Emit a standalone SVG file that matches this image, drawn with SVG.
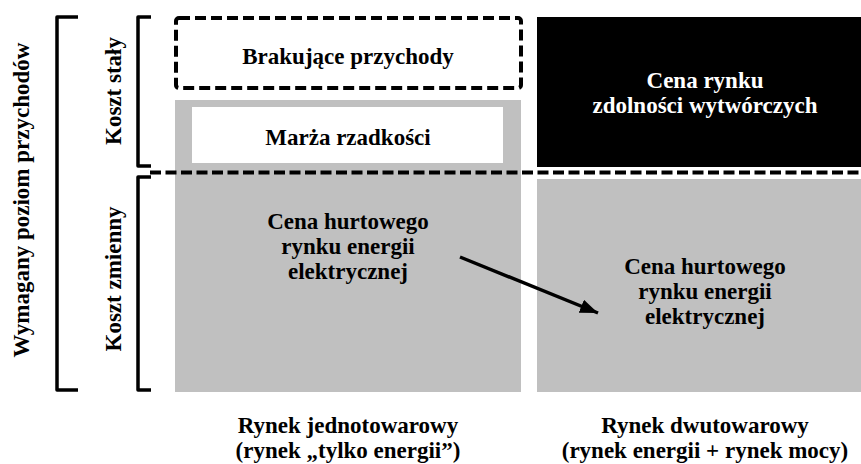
<svg xmlns="http://www.w3.org/2000/svg" width="861" height="464" viewBox="0 0 861 464">
<defs>
<style>
.t{font-family:"Liberation Serif","Times New Roman",serif;font-weight:bold;font-size:23px;fill:#000;text-anchor:middle}
.w{fill:#fff}
.br{fill:none;stroke:#000;stroke-width:3.5;stroke-linejoin:round}
.gray{fill:#c0c0c0}
</style>
<marker id="ah" markerWidth="18" markerHeight="14" refX="18" refY="7" orient="auto" markerUnits="userSpaceOnUse">
<path d="M0,0 L18,7 L0,14 Z" fill="#000"/>
</marker>
</defs>
<rect width="861" height="464" fill="#fff"/>
<g id="bracket-total">
<path class="br" d="M78,17 H57 V390 H78"/>
<text class="t" transform="translate(29,200) rotate(-90)">Wymagany poziom przychodów</text>
</g>
<g id="bracket-fixed">
<path class="br" d="M151,17 H138 V166 H151"/>
<text class="t" transform="translate(121,91) rotate(-90)">Koszt stały</text>
</g>
<g id="bracket-variable">
<path class="br" d="M151,177 H138 V390 H151"/>
<text class="t" transform="translate(121,279) rotate(-90)">Koszt zmienny</text>
</g>
<g id="left-gray">
<rect class="gray" x="175" y="100" width="346" height="292"/>
<text class="t" x="348" y="229">Cena hurtowego</text>
<text class="t" x="348" y="254">rynku energii</text>
<text class="t" x="348" y="279">elektrycznej</text>
</g>
<g id="scarcity">
<rect x="192" y="107" width="311" height="56" fill="#fff"/>
<text class="t" x="348" y="145">Marża rzadkości</text>
</g>
<g id="missing">
<rect x="176" y="18" width="345" height="70" rx="3" fill="none" stroke="#000" stroke-width="4" stroke-dasharray="11,5"/>
<text class="t" x="348" y="64">Brakujące przychody</text>
</g>
<g id="capacity">
<rect x="537" y="17" width="324" height="150" fill="#000"/>
<text class="t w" x="705" y="88">Cena rynku</text>
<text class="t w" x="705" y="113">zdolności wytwórczych</text>
</g>
<g id="right-gray">
<rect class="gray" x="537" y="179" width="324" height="213"/>
<text class="t" x="705" y="274">Cena hurtowego</text>
<text class="t" x="705" y="299">rynku energii</text>
<text class="t" x="705" y="324">elektrycznej</text>
</g>
<g id="connectors">
<line x1="150" y1="172.5" x2="861" y2="172.5" stroke="#000" stroke-width="4" stroke-dasharray="11,4.5"/>
<line x1="460" y1="257" x2="598" y2="313" stroke="#000" stroke-width="3.5" marker-end="url(#ah)"/>
</g>
<g id="labels">
<text class="t" x="348" y="433">Rynek jednotowarowy</text>
<text class="t" x="348" y="458">(rynek „tylko energii”)</text>
<text class="t" x="705" y="433">Rynek dwutowarowy</text>
<text class="t" x="705" y="458">(rynek energii + rynek mocy)</text>
</g>
</svg>
